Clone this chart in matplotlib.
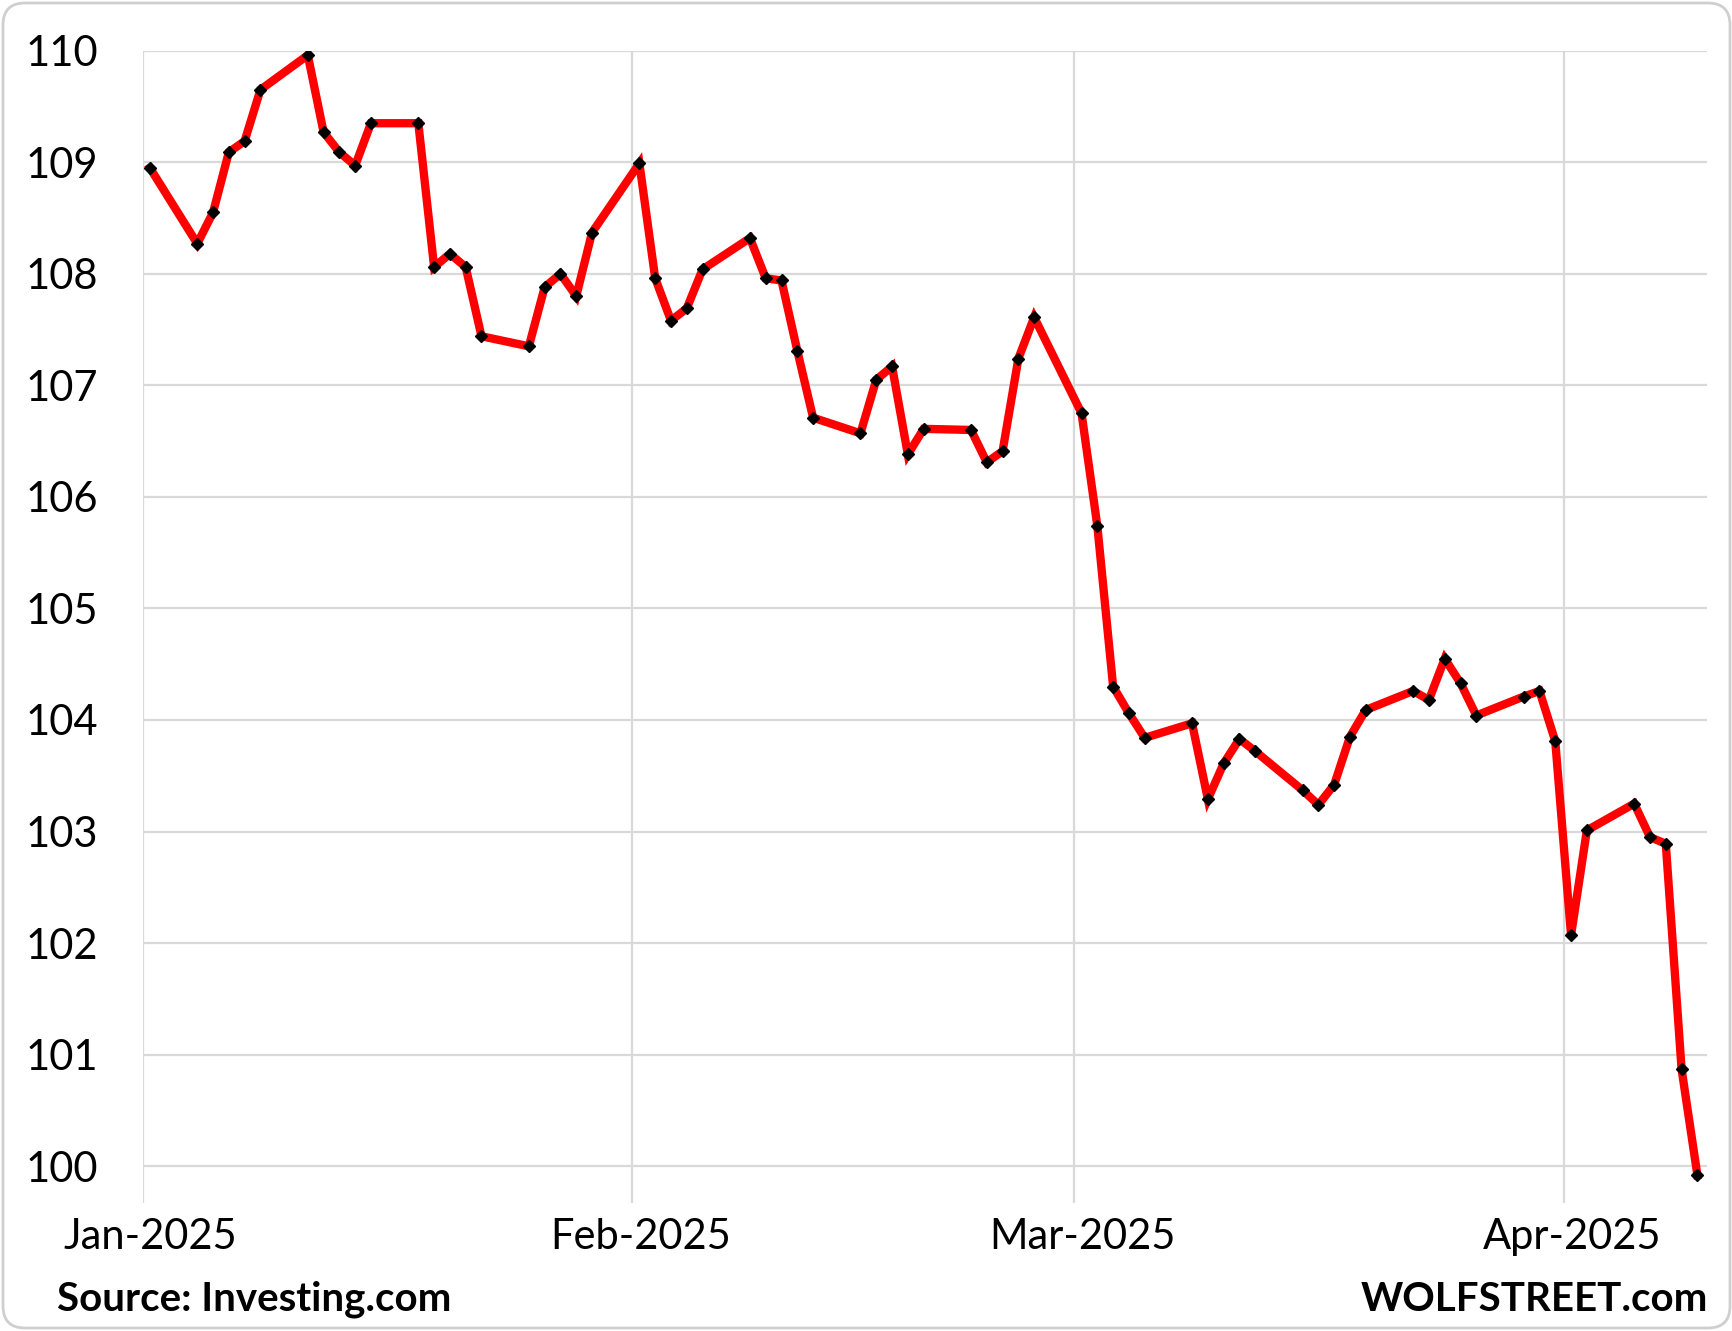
import matplotlib
matplotlib.use("Agg")
import matplotlib.pyplot as plt
import matplotlib.dates as mdates
import matplotlib.transforms as mtransforms
from matplotlib.patches import FancyBboxPatch
import datetime as dt

# US Dollar Index (DXY), daily close
jan_days = [3, 6, 7, 8, 9, 10, 13, 14, 15, 16, 17, 20, 21, 22, 23, 24, 27, 28, 29, 30, 31]
jan_vals = [108.95, 108.27, 108.55, 109.09, 109.19, 109.65, 109.96, 109.27, 109.09, 108.97, 109.35,
            109.35, 108.06, 108.18, 108.06, 107.44, 107.35, 107.88, 108.00, 107.80, 108.37]
feb_days = [3, 4, 5, 6, 7, 10, 11, 12, 13, 14, 17, 18, 19, 20, 21, 24, 25, 26, 27, 28]
feb_vals = [108.99, 107.96, 107.58, 107.69, 108.04, 108.32, 107.96, 107.94, 107.31, 106.71,
            106.57, 107.05, 107.17, 106.38, 106.61, 106.60, 106.31, 106.41, 107.24, 107.61]
mar_days = [3, 4, 5, 6, 7, 10, 11, 12, 13, 14, 17, 18, 19, 20, 21, 24, 25, 26, 27, 28, 31]
mar_vals = [106.75, 105.74, 104.30, 104.06, 103.84, 103.97, 103.29, 103.61, 103.83, 103.72,
            103.37, 103.24, 103.42, 103.85, 104.09, 104.26, 104.18, 104.55, 104.33, 104.04, 104.21]
apr_days = [1, 2, 3, 4, 7, 8, 9, 10, 11]
apr_vals = [104.26, 103.81, 102.07, 103.01, 103.25, 102.95, 102.89, 100.87, 99.92]

month_ticks = [dt.date(2025, 1, 1), dt.date(2025, 2, 1), dt.date(2025, 3, 1), dt.date(2025, 4, 1)]
y_ticks = list(range(100, 111))

dates = ([dt.date(2025, 1, d) for d in jan_days] + [dt.date(2025, 2, d) for d in feb_days]
         + [dt.date(2025, 3, d) for d in mar_days] + [dt.date(2025, 4, d) for d in apr_days])
values = jan_vals + feb_vals + mar_vals + apr_vals

# the original Excel chart draws the points ~1.5 days left of the month gridlines
X_SHIFT = 1.54

FONT = "Lato"

fig = plt.figure(figsize=(17.33, 13.31), dpi=100)
ax = fig.add_axes([0.0823, 0.0962, 0.9027, 0.8657])

x = mdates.date2num(dates) - X_SHIFT
ax.plot(x, values, color="#ff0000", lw=6, solid_joinstyle="miter", zorder=3)
ax.plot(x, values, ls="none", marker="D", ms=6, color="black", zorder=4)

x0 = mdates.date2num(dt.date(2025, 1, 1))
ax.set_xlim(x0, x0 + 99.07)
ax.set_ylim(99.67, 110)

ax.set_yticks(y_ticks)
ax.set_yticklabels([str(v) for v in y_ticks], fontsize=30, family=FONT)
ax.set_xticks(mdates.date2num(month_ticks))
ax.set_xticklabels([d.strftime("%b-%Y") for d in month_ticks], fontsize=30, family=FONT)

ax.tick_params(axis="y", length=0, pad=32)
ax.tick_params(axis="x", length=0, pad=11)
offset = mtransforms.ScaledTranslation(0.08, 0, fig.dpi_scale_trans)
for lab in ax.get_xticklabels():
    lab.set_transform(lab.get_transform() + offset)

ax.grid(True, color="#d9d9d9", lw=1.6)
ax.set_axisbelow(True)
for s in ax.spines.values():
    s.set_visible(False)

fig.text(57 / 1733, 1 - 1311 / 1331, "Source: Investing.com", fontsize=29, weight="bold",
         family=FONT, ha="left", va="baseline")
fig.text(1708 / 1733, 1 - 1311 / 1331, "WOLFSTREET.com", fontsize=29, weight="bold",
         family=FONT, ha="right", va="baseline")

frame = FancyBboxPatch((0.03, 0.03), 17.27, 13.25, boxstyle="round,pad=0,rounding_size=0.22",
                       transform=fig.dpi_scale_trans, fc="none", ec="#cfcfcf", lw=2)
fig.patches.append(frame)

fig.savefig("out.png", dpi=100, facecolor="white")
